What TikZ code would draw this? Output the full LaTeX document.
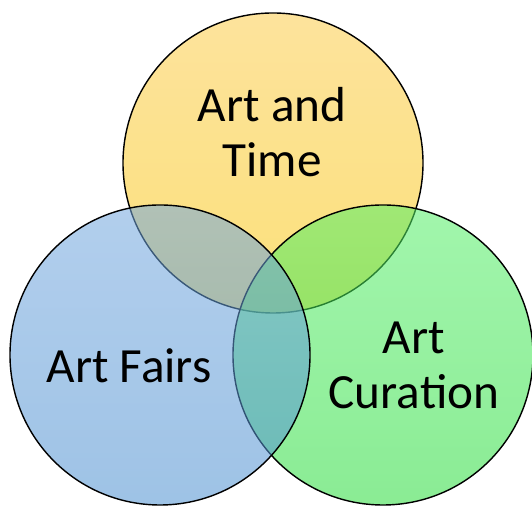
\documentclass[tikz,border=0pt]{standalone}
\usepackage{fontspec}
\setmainfont{Carlito}
\usepackage{xcolor}
\usepackage{tikz}
\usetikzlibrary{positioning}
\definecolor{vyellowtop}{RGB}{253,227,156}
\definecolor{vyellowbot}{RGB}{251,224,122}
\definecolor{vbluetop}{RGB}{115,167,222}
\definecolor{vbluebot}{RGB}{78,145,209}
\definecolor{vgreentop}{RGB}{85,238,104}
\definecolor{vgreenbot}{RGB}{42,220,60}

\tikzset{
  vset/.style={draw=black, line width=1pt},
  vlabel/.style={font=\fontsize{35}{39}\selectfont, align=center, text=black}
}

\begin{document}
\begin{tikzpicture}[x=1cm, y=1cm]
  \useasboundingbox (0,0) rectangle (13.3,12.65);

  %% three sets, bottom to top
  \shade[vset, top color=vyellowtop, bottom color=vyellowbot] (6.825,8.575) circle (3.75);
  \shade[vset, top color=vgreentop, bottom color=vgreenbot, fill opacity=0.55] (9.575,3.775) circle (3.75);
  \shade[vset, top color=vbluetop, bottom color=vbluebot, fill opacity=0.55] (4.0,3.775) circle (3.75);

  %% set labels
  \node[vlabel] (time) at (6.8,9.35) {Art and\\Time};
  \node[vlabel] (fairs) at (3.225,3.51) {Art Fairs};
  \node[vlabel] (curation) at (10.35,3.525) {Art\\Curation};

\end{tikzpicture}
\end{document}
